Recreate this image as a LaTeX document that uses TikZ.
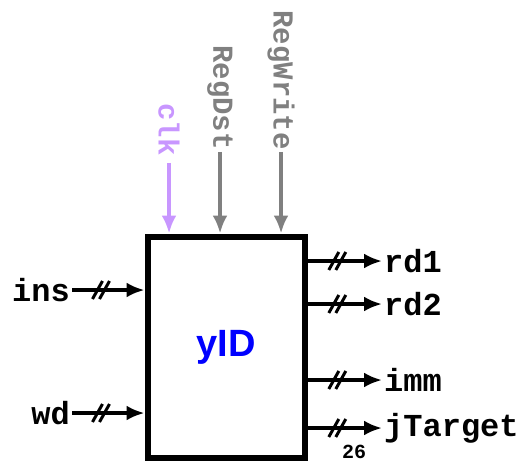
\documentclass[tikz,border=0pt]{standalone}
\usepackage{fontspec}
\setsansfont{Liberation Sans}
\setmonofont{Liberation Mono}
\usepackage{tikz}
\usetikzlibrary{arrows.meta}
\usetikzlibrary{decorations.markings}
\usetikzlibrary{positioning}
\definecolor{clkpurple}{RGB}{200,150,255}
\definecolor{ctlgray}{RGB}{128,128,128}
\tikzstyle{block} = [draw, line width=6pt, rectangle, 
    minimum width=157pt, minimum height=221pt,
    font=\fontsize{38}{38}\selectfont\sffamily\bfseries, text=blue]
\tikzstyle{sig} = [inner sep=2pt, font=\fontsize{32}{32}\selectfont\ttfamily\bfseries]
\tikzstyle{ctl} = [inner sep=2pt, rotate=-90, anchor=east,
    font=\fontsize{29}{29}\selectfont\ttfamily\bfseries]
\tikzstyle{wire} = [->, line width=3.5pt]
\tikzstyle{bus} = [wire, postaction={decorate}, decoration={markings,
    mark=at position 0.4 with {\draw[-, line width=3pt] (-8.5pt,-9pt) -- (1.5pt,9pt) (-1.5pt,-9pt) -- (8.5pt,9pt);}}]

\begin{document}
\begin{tikzpicture}[x=1pt, y=-1pt, >={Latex[length=18pt,width=15pt]}]
    \useasboundingbox (0,0) rectangle (521,462);
    % We start by placing the block
    \node [block] (yid) at (226,347) {yID};

    % inputs, outputs and control signals
    \node [sig, anchor=east] (ins) at (72,290) {ins};
    \node [sig, anchor=east] (wd) at (72,413) {wd};
    \node [sig, anchor=west] (rd1) at (382,261) {rd1};
    \node [sig, anchor=west] (rd2) at (382,304) {rd2};
    \node [sig, anchor=west] (imm) at (382,380) {imm};
    \node [sig, anchor=west] (jtarget) at (382,428) {jTarget};
    \node [font=\fontsize{20}{20}\selectfont\ttfamily\bfseries] (jwidth) at (354,452) {26};
    \node [ctl, text=clkpurple] (clk) at (169,158) {clk};
    \node [ctl, text=ctlgray] (regdst) at (220,152) {RegDst};
    \node [ctl, text=ctlgray] (regwrite) at (281,152) {RegWrite};

    % Once the nodes are placed, connecting them is easy. 
    \draw [bus] (ins) -- (ins -| yid.west);
    \draw [bus] (wd) -- (wd -| yid.west);
    \draw [bus] (yid.east |- rd1) -- (rd1);
    \draw [bus] (yid.east |- rd2) -- (rd2);
    \draw [bus] (yid.east |- imm) -- (imm);
    \draw [bus] (yid.east |- jtarget) -- (jtarget);
    \draw [wire, color=clkpurple, shorten <=5pt] (clk.east) -- (clk.east |- yid.north);
    \draw [wire, color=ctlgray] (regdst.east) -- (regdst.east |- yid.north);
    \draw [wire, color=ctlgray] (regwrite.east) -- (regwrite.east |- yid.north);
\end{tikzpicture}
\end{document}
